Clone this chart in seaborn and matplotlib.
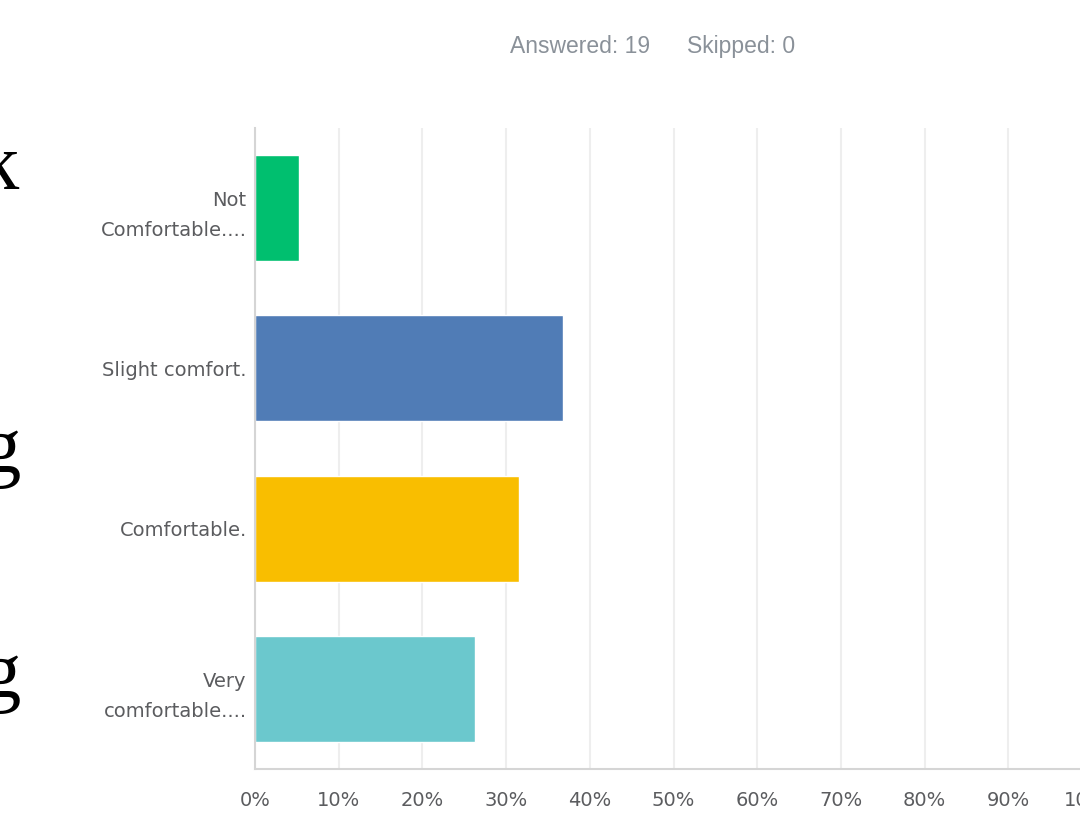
import matplotlib
matplotlib.use("Agg")
import matplotlib.pyplot as plt
import seaborn as sns
import pandas as pd

# Survey data (19 answered)
categories = ["Not\nComfortable....", "Slight comfort.", "Comfortable.", "Very\ncomfortable...."]
percents = [5.26, 36.84, 31.58, 26.32]
bar_colors = ["#00BF6F", "#507CB6", "#F9BE00", "#6BC8CD"]
x_ticks = [0, 10, 20, 30, 40, 50, 60, 70, 80, 90, 100]
x_tick_labels = ["0%", "10%", "20%", "30%", "40%", "50%", "60%", "70%", "80%", "90%", "100%"]

sns.set_style("white")
plt.rcParams['font.family'] = ['DejaVu Sans']

df = pd.DataFrame({"Answer": categories, "Percent": percents})

fig = plt.figure(figsize=(10.8, 8.16), dpi=100)
ax = fig.add_axes([255 / 1080, 47 / 816, 837 / 1080, 641 / 816])

sns.barplot(data=df, x="Percent", y="Answer", hue="Answer", palette=bar_colors,
            orient="h", width=0.66, saturation=1, legend=False, ax=ax)

ax.set_xlim(0, 100)
ax.set_xticks(x_ticks)
ax.set_xticklabels(x_tick_labels, fontsize=14, color="#5b5c5f")
ax.tick_params(axis="y", labelsize=14, labelcolor="#5b5c5f", length=0, pad=6)
ax.tick_params(axis="x", length=0, pad=16)
for lbl in ax.get_yticklabels():
    lbl.set_linespacing(1.75)
ax.set_xlabel("")
ax.set_ylabel("")
ax.grid(axis="x", color="#eeeeee", linewidth=1.5)
ax.set_axisbelow(True)
for side in ["top", "right"]:
    ax.spines[side].set_visible(False)
for side in ["left", "bottom"]:
    ax.spines[side].set_color("#d5d5d5")
    ax.spines[side].set_linewidth(1.5)

# Header text
header_font = ["Liberation Sans", "DejaVu Sans"]
fig.text(510 / 1080, 1 - 53 / 816, "Answered: 19", fontsize=16.5, color="#8a9199",
         family=header_font, va="baseline")
fig.text(687 / 1080, 1 - 53 / 816, "Skipped: 0", fontsize=16.5, color="#8a9199",
         family=header_font, va="baseline")

# Partially cropped slide letters on the left edge
for letter, x_px, y_px in [("k", 19, 189), ("g", 21, 472), ("g", 21, 697)]:
    fig.text(x_px / 1080, 1 - y_px / 816, letter, fontsize=58, color="black",
             family=["Liberation Serif", "DejaVu Serif"], ha="right", va="baseline")

plt.savefig("out.png", dpi=100)
